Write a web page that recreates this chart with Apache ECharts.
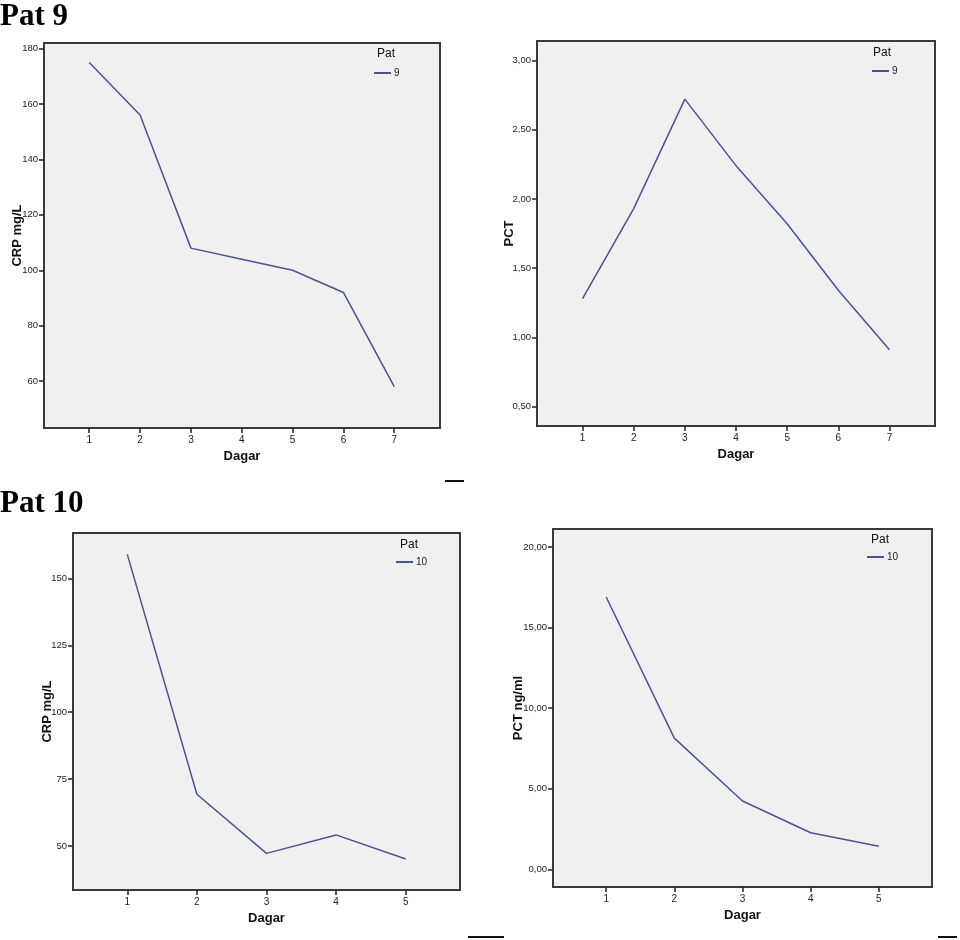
<!DOCTYPE html>
<html>
<head>
<meta charset="utf-8">
<script src="https://cdn.jsdelivr.net/npm/echarts@6/dist/echarts.min.js"></script>
<style>
  html, body { margin: 0; padding: 0; background: #fff; }
  #chart { width: 960px; height: 940px; }
</style>
</head>
<body>
<div id="chart"></div>
<script>
// data
const days9 = [1, 2, 3, 4, 5, 6, 7]
const crp9 = [175, 156, 108, 104, 100, 92, 58]
const pct9 = [1.28, 1.93, 2.72, 2.24, 1.82, 1.34, 0.91]

const days10 = [1, 2, 3, 4, 5]
const crp10 = [159, 69.3, 47.2, 54.1, 45.1]
const pct10 = [16.9, 8.14, 4.24, 2.27, 1.43]

const crp9Ticks = [60, 80, 100, 120, 140, 160, 180]
const pct9Ticks = [0.5, 1.0, 1.5, 2.0, 2.5, 3.0]
const crp10Ticks = [50, 75, 100, 125, 150]
const pct10Ticks = [0, 5, 10, 15, 20]

const lineColor = '#4a5488'
const narrow = '"Liberation Sans Narrow", "Liberation Sans", Arial, sans-serif'
const sans = '"Liberation Sans", Arial, sans-serif'
const serif = '"Liberation Serif", "Times New Roman", serif'

const comma = v => v.toFixed(2).replace('.', ',')

const grids = [
  { left: 44, top: 43, width: 396, height: 385 },
  { left: 537, top: 41, width: 398, height: 385 },
  { left: 73, top: 533, width: 387, height: 357 },
  { left: 553, top: 529, width: 379, height: 358 },
]

function xAxisFor(gridIndex, days, min, max) {
  return {
    type: 'value',
    gridIndex,
    min,
    max,
    name: 'Dagar',
    nameLocation: 'middle',
    nameGap: 22,
    nameMoveOverlap: false,
    nameTextStyle: { fontFamily: narrow, fontWeight: 'bold', fontSize: 13, color: '#111' },
    axisLine: { show: false, onZero: false },
    splitLine: { show: false },
    axisTick: { show: true, length: 5, lineStyle: { color: '#222', width: 1.5 }, customValues: days },
    axisLabel: { customValues: days, margin: 7, fontFamily: narrow, fontSize: 10, color: '#222' },
  }
}

function yAxisFor(gridIndex, name, ticks, min, max, gap, fmt) {
  return {
    type: 'value',
    gridIndex,
    min,
    max,
    name,
    nameLocation: 'middle',
    nameGap: gap,
    nameMoveOverlap: false,
    nameTextStyle: { fontFamily: sans, fontWeight: 'bold', fontSize: 13, color: '#111' },
    axisLine: { show: false, onZero: false },
    splitLine: { show: false },
    axisTick: { show: true, length: 5, lineStyle: { color: '#222', width: 1.5 }, customValues: ticks },
    axisLabel: { customValues: ticks, margin: 6, fontFamily: narrow, fontSize: 9.5, color: '#222', formatter: fmt },
  }
}

function seriesFor(i, name, days, values) {
  return {
    type: 'line',
    name,
    xAxisIndex: i,
    yAxisIndex: i,
    symbol: 'none',
    lineStyle: { color: lineColor, width: 1.5 },
    itemStyle: { color: lineColor },
    data: days.map((d, k) => [d, values[k]]),
  }
}

function legendFor(name, left, top) {
  return {
    data: [name],
    left,
    top,
    orient: 'vertical',
    itemWidth: 17,
    itemHeight: 8,
    itemGap: 0,
    padding: 0,
    icon: 'path://M0,3 L17,3 L17,5 L0,5 Z',
    selectedMode: false,
    textStyle: { fontFamily: narrow, fontSize: 10, color: '#222', padding: [0, 0, 0, -2] },
  }
}

function label(text, x, y, style) {
  return {
    type: 'text',
    x,
    y,
    style: Object.assign({
      text,
      fill: '#111',
      align: 'center',
      verticalAlign: 'middle',
      fontFamily: sans,
      fontSize: 12,
    }, style || {}),
  }
}

function dash(x1, x2, y) {
  return {
    type: 'line',
    shape: { x1, y1: y, x2, y2: y },
    style: { stroke: '#111', lineWidth: 2 },
  }
}

const heading = { align: 'left', fontFamily: serif, fontSize: 31, fontWeight: 'bold', fill: '#000' }

const chart = echarts.init(document.getElementById('chart'))
chart.setOption({
  animation: false,
  grid: grids.map(g => Object.assign({
    show: true,
    backgroundColor: '#f0f0f0',
    borderColor: '#3a3a3a',
    borderWidth: 2,
  }, g)),
  xAxis: [
    xAxisFor(0, days9, 0.11, 7.9),
    xAxisFor(1, days9, 0.11, 7.89),
    xAxisFor(2, days10, 0.22, 5.78),
    xAxisFor(3, days10, 0.22, 5.78),
  ],
  yAxis: [
    yAxisFor(0, 'CRP mg/L', crp9Ticks, 43.1, 182, 20, v => String(v)),
    yAxisFor(1, 'PCT', pct9Ticks, 0.36, 3.14, 21, comma),
    yAxisFor(2, 'CRP mg/L', crp10Ticks, 33.5, 167, 19, v => String(v)),
    yAxisFor(3, 'PCT ng/ml', pct10Ticks, -1.1, 21.12, 28, comma),
  ],
  legend: [
    legendFor('9', 374, 68),
    legendFor('9 ', 872, 66),
    legendFor('10', 396, 557),
    legendFor('10 ', 867, 552),
  ],
  series: [
    seriesFor(0, '9', days9, crp9),
    seriesFor(1, '9 ', days9, pct9),
    seriesFor(2, '10', days10, crp10),
    seriesFor(3, '10 ', days10, pct10),
  ],
  graphic: [
    label('Pat 9', 0, 17, heading),
    label('Pat 10', 0, 504, heading),
    label('Pat', 386, 54),
    label('Pat', 882, 53),
    label('Pat', 409, 545),
    label('Pat', 880, 540),
    dash(445, 464, 481),
    dash(468, 504, 937),
    dash(938, 957, 937),
  ],
})
</script>
</body>
</html>
